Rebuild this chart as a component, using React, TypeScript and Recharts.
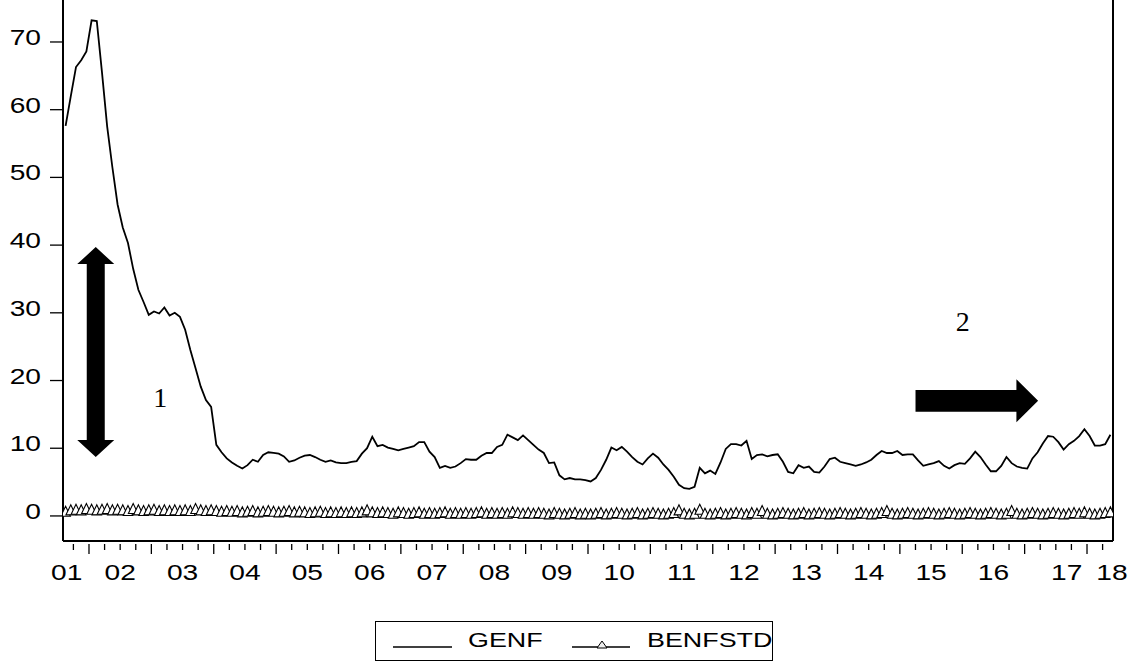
import React from "react";
import { LineChart, Line, XAxis, YAxis, ReferenceLine, ReferenceDot } from "recharts";

// monthly, 2001M08 .. 2018M05
const genf = [
  57.6, 62.0, 66.3, 67.3, 68.6, 73.2, 73.1, 65.5, 57.5, 51.5,
  46.0, 42.6, 40.3, 36.5, 33.4, 31.6, 29.7, 30.2, 29.9, 30.8,
  29.6, 30.0, 29.4, 27.5, 24.5, 21.8, 19.1, 17.1, 16.1, 10.5,
  9.4, 8.5, 7.9, 7.4, 7.0, 7.5, 8.3, 8.0, 9.0, 9.4,
  9.3, 9.2, 8.8, 8.0, 8.2, 8.6, 8.9, 9.0, 8.7, 8.3,
  8.0, 8.2, 7.9, 7.8, 7.8, 8.0, 8.1, 9.2, 10.0, 11.7,
  10.3, 10.5, 10.1, 9.9, 9.7, 9.9, 10.1, 10.3, 10.9, 10.9,
  9.5, 8.7, 7.1, 7.4, 7.1, 7.3, 7.8, 8.4, 8.3, 8.3,
  8.9, 9.3, 9.3, 10.2, 10.5, 12.0, 11.6, 11.2, 11.9, 11.2,
  10.5, 9.8, 9.3, 7.8, 7.9, 6.0, 5.4, 5.6, 5.4, 5.4,
  5.3, 5.1, 5.6, 6.8, 8.3, 10.1, 9.7, 10.2, 9.5, 8.7,
  8.0, 7.6, 8.5, 9.2, 8.6, 7.6, 6.8, 5.8, 4.6, 4.1,
  4.0, 4.3, 7.1, 6.3, 6.7, 6.2, 7.9, 9.9, 10.6, 10.6,
  10.4, 11.1, 8.4, 9.0, 9.1, 8.8, 9.0, 9.1, 8.0, 6.5,
  6.3, 7.5, 7.1, 7.3, 6.5, 6.4, 7.3, 8.4, 8.6, 8.0,
  7.8, 7.6, 7.4, 7.6, 7.9, 8.3, 9.0, 9.6, 9.3, 9.3,
  9.6, 9.0, 9.1, 9.1, 8.2, 7.4, 7.6, 7.8, 8.1, 7.4,
  7.0, 7.5, 7.8, 7.7, 8.5, 9.5, 8.7, 7.6, 6.6, 6.6,
  7.4, 8.7, 7.8, 7.3, 7.1, 7.0, 8.5, 9.4, 10.7, 11.8,
  11.7, 10.9, 9.8, 10.6, 11.1, 11.8, 12.8, 11.8, 10.4, 10.4,
  10.6, 12.0,
];

const benfstd = [
  0.7, 0.9, 1.0, 0.9, 1.1, 1.0, 0.9, 1.0, 1.1, 0.9,
  1.0, 0.9, 0.8, 1.1, 0.9, 0.8, 0.9, 1.0, 0.8, 0.9,
  0.8, 0.9, 0.8, 0.9, 0.8, 1.1, 0.9, 0.8, 0.9, 0.8,
  0.7, 0.8, 0.7, 0.8, 0.6, 0.7, 0.8, 0.6, 0.7, 0.8,
  0.7, 0.6, 0.7, 0.8, 0.6, 0.7, 0.6, 0.5, 0.6, 0.7,
  0.5, 0.6, 0.5, 0.6, 0.5, 0.6, 0.5, 0.6, 0.9, 0.6,
  0.5, 0.6, 0.5, 0.4, 0.6, 0.5, 0.4, 0.5, 0.6, 0.4,
  0.5, 0.4, 0.5, 0.6, 0.4, 0.5, 0.4, 0.5, 0.4, 0.5,
  0.6, 0.4, 0.5, 0.4, 0.5, 0.4, 0.6, 0.5, 0.4, 0.5,
  0.4, 0.5, 0.4, 0.3, 0.5, 0.4, 0.3, 0.4, 0.5, 0.3,
  0.4, 0.3, 0.4, 0.5, 0.3, 0.4, 0.5, 0.4, 0.3, 0.4,
  0.5, 0.3, 0.4, 0.5, 0.4, 0.3, 0.4, 0.5, 0.9, 0.4,
  0.3, 0.4, 1.0, 0.4, 0.3, 0.4, 0.5, 0.3, 0.4, 0.5,
  0.4, 0.3, 0.5, 0.4, 0.8, 0.4, 0.3, 0.4, 0.5, 0.4,
  0.3, 0.4, 0.5, 0.3, 0.4, 0.5, 0.4, 0.3, 0.4, 0.5,
  0.4, 0.3, 0.4, 0.5, 0.4, 0.3, 0.4, 0.5, 0.8, 0.4,
  0.3, 0.4, 0.5, 0.4, 0.3, 0.4, 0.5, 0.4, 0.3, 0.4,
  0.5, 0.4, 0.3, 0.4, 0.5, 0.4, 0.3, 0.4, 0.5, 0.4,
  0.3, 0.4, 0.8, 0.4, 0.3, 0.4, 0.5, 0.4, 0.3, 0.4,
  0.5, 0.4, 0.3, 0.4, 0.5, 0.4, 0.6, 0.4, 0.3, 0.4,
  0.5, 0.6,
];

const yearLabels = ["01", "02", "03", "04", "05", "06", "07", "08", "09",
  "10", "11", "12", "13", "14", "15", "16", "17", "18"];
// label positions on the month index axis
const labelPos = [0.2, 10.5, 22.5, 34.5, 46.5, 58.5, 70.5, 82.5, 94.5,
  106.5, 118.5, 130.5, 142.5, 154.5, 166.5, 178.5, 192.6, 201.3];
const yTicks = [0, 10, 20, 30, 40, 50, 60, 70];

const data = genf.map((v, i) => ({ i, genf: v, benfstd: benfstd[i] }));

// quarter boundaries get a tick mark, year boundaries a long one
const quarterTicks: number[] = [];
for (let t = 1.5; t < 201.5; t += 3) quarterTicks.push(t);
const allTicks = Array.from(new Set([...quarterTicks, ...labelPos])).sort((a, b) => a - b);

const FONT = "'Liberation Sans', Arial, sans-serif";
const STRETCH = 1.28;

const MonthTick = (props: any) => {
  const { x, y, payload } = props;
  const v = payload.value;
  const isTick = quarterTicks.includes(v);
  const isYear = (v - 4.5) % 12 === 0;
  const k = labelPos.indexOf(v);
  return (
    <g>
      {isTick && (
        <line x1={x} x2={x} y1={y + 3} y2={y + (isYear ? 13 : 9)} stroke="#000" strokeWidth={1.3} />
      )}
      {k >= 0 && (
        <text
          transform={`translate(${x},${y + 39}) scale(${STRETCH},1)`}
          textAnchor="middle"
          fontSize={22}
          fontFamily={FONT}
          fill="#000"
        >
          {yearLabels[k]}
        </text>
      )}
    </g>
  );
};

const ValueLabel = (props: any) => {
  const { x, y, payload } = props;
  return (
    <text
      transform={`translate(${x},${y + 3}) scale(${STRETCH},1)`}
      textAnchor="end"
      fontSize={22}
      fontFamily={FONT}
      fill="#000"
    >
      {payload.value}
    </text>
  );
};

const Triangle = (p: any) => {
  const { cx, cy, index } = p;
  if (cx == null || cy == null) return null;
  const w = 4.8;
  const h = 5;
  return (
    <polygon
      key={index}
      points={`${cx - w},${cy + h} ${cx},${cy - h} ${cx + w},${cy + h}`}
      fill="#fff"
      stroke="#000"
      strokeWidth={1.1}
    />
  );
};

const VArrow = (p: any) => {
  const { cx, cy } = p;
  const half = 105, hw = 18.5, hl = 17, sw = 9;
  const pts = [
    [cx, cy - half], [cx + hw, cy - half + hl], [cx + sw, cy - half + hl],
    [cx + sw, cy + half - hl], [cx + hw, cy + half - hl], [cx, cy + half],
    [cx - hw, cy + half - hl], [cx - sw, cy + half - hl], [cx - sw, cy - half + hl],
    [cx - hw, cy - half + hl],
  ].map((q) => q.join(",")).join(" ");
  return <polygon points={pts} fill="#000" />;
};

const HArrow = (p: any) => {
  const { cx, cy } = p;
  const half = 61.3, hh = 21.5, hl = 21.7, sh = 10.8;
  const pts = [
    [cx - half, cy - sh], [cx + half - hl, cy - sh], [cx + half - hl, cy - hh],
    [cx + half, cy], [cx + half - hl, cy + hh], [cx + half - hl, cy + sh],
    [cx - half, cy + sh],
  ].map((q) => q.join(",")).join(" ");
  return <polygon points={pts} fill="#000" />;
};

const Note = (text: string) => (p: any) => (
  <text x={p.cx} y={p.cy + 9} textAnchor="middle" fontSize={28}
    fontFamily="'Liberation Serif', 'Times New Roman', serif" fill="#000">
    {text}
  </text>
);

export default function App() {
  return (
    <div style={{ position: "absolute", left: 0, top: 0, width: 1146, height: 668, background: "#fff" }}>
      <LineChart
        width={1146}
        height={668}
        data={data}
        margin={{ top: 0, right: 33, bottom: 0, left: 0 }}
      >
        <XAxis
          dataKey="i"
          type="number"
          domain={[-0.5, 201.5]}
          allowDataOverflow
          ticks={allTicks}
          interval={0}
          tick={<MonthTick />}
          tickLine={false}
          tickSize={0}
          tickMargin={0}
          axisLine={{ stroke: "#000", strokeWidth: 2 }}
          height={127}
        />
        <YAxis
          type="number"
          domain={[-3.7, 76.2]}
          allowDataOverflow
          ticks={yTicks}
          interval={0}
          width={63}
          tickSize={13}
          tickMargin={9}
          tickLine={{ stroke: "#000", strokeWidth: 1.3 }}
          axisLine={{ stroke: "#000", strokeWidth: 2 }}
          tick={<ValueLabel />}
        />
        <ReferenceLine x={201.5} stroke="#000" strokeWidth={2} />
        <Line
          dataKey="genf"
          name="GENF"
          type="linear"
          stroke="#000"
          strokeWidth={1.8}
          dot={false}
          activeDot={false}
          isAnimationActive={false}
        />
        <Line
          dataKey="benfstd"
          name="BENFSTD"
          type="linear"
          stroke="#000"
          strokeWidth={1}
          dot={<Triangle />}
          activeDot={false}
          isAnimationActive={false}
        />
        <ReferenceDot x={5.8} y={24.2} ifOverflow="visible" shape={<VArrow />} />
        <ReferenceDot x={175.3} y={17.0} ifOverflow="visible" shape={<HArrow />} />
        <ReferenceDot x={18.2} y={17.4} ifOverflow="visible" shape={Note("1")} />
        <ReferenceDot x={172.6} y={28.6} ifOverflow="visible" shape={Note("2")} />
      </LineChart>
      <div
        style={{
          position: "absolute",
          left: 375,
          top: 621,
          width: 398,
          height: 40,
          border: "1px solid #000",
          boxSizing: "border-box",
        }}
      >
        <svg width={396} height={38} style={{ display: "block" }}>
          <line x1={17} x2={76} y1={25} y2={25} stroke="#000" strokeWidth={1.5} />
          <text transform={`translate(92,25) scale(${STRETCH},1)`} fontSize={21} fontFamily={FONT} fill="#000">
            GENF
          </text>
          <line x1={196} x2={254} y1={25} y2={25} stroke="#000" strokeWidth={1.5} />
          <polygon points="221,26 226,19 231,26" fill="#eee" stroke="#000" strokeWidth={1} />
          <text transform={`translate(271,25) scale(${STRETCH},1)`} fontSize={21} fontFamily={FONT} fill="#000">
            BENFSTD
          </text>
        </svg>
      </div>
    </div>
  );
}
